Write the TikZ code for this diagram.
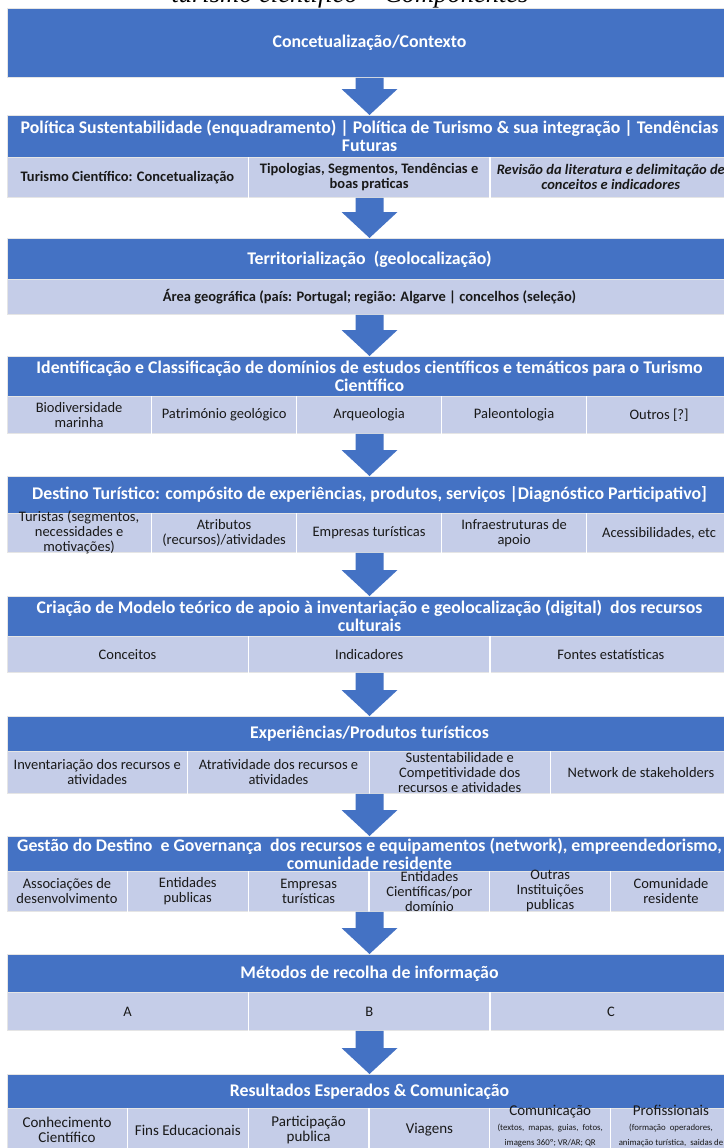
\documentclass[tikz,border=0pt]{standalone}
\usepackage{fontspec}
\setmainfont{Carlito}
\newfontfamily\titlefont{Liberation Serif}
\usetikzlibrary{calc}

\definecolor{headblue}{HTML}{4472C4}
\definecolor{rowblue}{RGB}{197,205,232}

\newcommand{\headfont}{\fontsize{17.8}{18}\selectfont\bfseries}
\newcommand{\cellfont}{\fontsize{14.5}{15}\selectfont}
\newcommand{\bigcellfont}{\fontsize{15}{15}\selectfont}
\newcommand{\tinycellfont}{\fontsize{8.8}{8.6}\selectfont}

% block arrow from one stage down to the next
\newcommand{\stagearrow}[2]{%
  \fill[headblue] ($(#1.south)+(-14,0)$) -- ($(#2.north)+(-14,-26)$)
    -- ($(#2.north)+(-28,-26)$) -- (#2.north) -- ($(#2.north)+(28,-26)$)
    -- ($(#2.north)+(14,-26)$) -- ($(#1.south)+(14,0)$) -- cycle;}

\tikzset{
  head/.style={fill=headblue, draw=black!10, line width=0.8pt, minimum width=725,
    inner sep=0pt, anchor=north},
  row/.style={fill=rowblue, draw=black!10, line width=0.8pt, minimum width=725,
    inner sep=0pt, anchor=north},
  headtxt/.style={text=white, font=\headfont, align=center, inner sep=0pt},
  celltxt/.style={text=black!90, font=\cellfont, align=center, inner sep=0pt},
  divider/.style={draw=white, line width=1.2pt}
}

\begin{document}
\begin{tikzpicture}[x=1pt, y=-1pt]

  \useasboundingbox (0,0) rectangle (723,1148);

  % centre line of the stages
  \def\cx{369.5}

  \node[font=\titlefont\itshape\fontsize{26.5}{26}\selectfont, anchor=base, inner sep=0pt]
    (title) at (350,3) {turismo científico – Componentes};

  % stage 1
  \node[head, minimum height=69] (h1) at (\cx,8) {};
  \node[headtxt] (t1) at (h1) {Concetualização/Contexto};

  % stage 2
  \node[head, minimum height=42] (h2) at (\cx,115) {};
  \node[headtxt] (t2) at (h2) {Política Sustentabilidade (enquadramento) | Política de Turismo \& sua integração | Tendências\\Futuras};
  \node[row, minimum height=40] (r2) at (\cx,157) {};
  \node[celltxt, font=\cellfont\bfseries] (c2-1) at ($(r2.west)+(120.8,0)$) {Turismo Científico: Concetualização};
  \node[celltxt, font=\cellfont\bfseries] (c2-2) at ($(r2.west)+(362.5,0)$) {Tipologias, Segmentos, Tendências e\\boas praticas};
  \node[celltxt, font=\cellfont\bfseries\itshape] (c2-3) at ($(r2.west)+(604.2,0)$) {Revisão da literatura e delimitação de\\conceitos e indicadores};
  \foreach \i in {1,2}
    \draw[divider] ($(r2.north west)+(\i*241.7,0)$) -- ($(r2.south west)+(\i*241.7,0)$);
  \stagearrow{h1}{h2}

  % stage 3
  \node[head, minimum height=41] (h3) at (\cx,238) {};
  \node[headtxt] (t3) at (h3) {Territorialização~ (geolocalização)};
  \node[row, minimum height=35] (r3) at (\cx,279) {};
  \node[celltxt, font=\cellfont\bfseries] (c3-1) at (r3) {Área geográfica (país: Portugal; região: Algarve | concelhos (seleção)};
  \stagearrow{r2}{h3}

  % stage 4
  \node[head, minimum height=40] (h4) at (\cx,356) {};
  \node[headtxt] (t4) at (h4) {Identificação e Classificação de domínios de estudos científicos e temáticos para o Turismo\\Científico};
  \node[row, minimum height=37] (r4) at (\cx,396) {};
  \foreach \txt [count=\i] in {{Biodiversidade\\marinha}, {Património geológico}, {Arqueologia}, {Paleontologia}, {Outros [?]}}
    \node[celltxt] (c4-\i) at ($(r4.west)+(\i*145-72.5,0)$) {\txt};
  \foreach \i in {1,...,4}
    \draw[divider] ($(r4.north west)+(\i*145,0)$) -- ($(r4.south west)+(\i*145,0)$);
  \stagearrow{r3}{h4}

  % stage 5
  \node[head, minimum height=37] (h5) at (\cx,476) {};
  \node[headtxt] (t5) at (h5) {Destino Turístico: compósito de experiências, produtos, serviços |Diagnóstico Participativo]};
  \node[row, minimum height=39] (r5) at (\cx,513) {};
  \foreach \txt [count=\i] in {{Turistas (segmentos,\\necessidades e\\motivações)}, {Atributos\\(recursos)/atividades}, {Empresas turísticas}, {Infraestruturas de\\apoio}, {Acessibilidades, etc}}
    \node[celltxt] (c5-\i) at ($(r5.west)+(\i*145-72.5,0)$) {\txt};
  \foreach \i in {1,...,4}
    \draw[divider] ($(r5.north west)+(\i*145,0)$) -- ($(r5.south west)+(\i*145,0)$);
  \stagearrow{r4}{h5}

  % stage 6
  \node[head, minimum height=40] (h6) at (\cx,596) {};
  \node[headtxt] (t6) at (h6) {Criação de Modelo teórico de apoio à inventariação e geolocalização (digital)~ dos recursos\\culturais};
  \node[row, minimum height=36] (r6) at (\cx,636) {};
  \foreach \txt [count=\i] in {{Conceitos}, {Indicadores}, {Fontes estatísticas}}
    \node[celltxt] (c6-\i) at ($(r6.west)+(\i*241.7-120.8,0)$) {\txt};
  \foreach \i in {1,2}
    \draw[divider] ($(r6.north west)+(\i*241.7,0)$) -- ($(r6.south west)+(\i*241.7,0)$);
  \stagearrow{r5}{h6}

  % stage 7
  \node[head, minimum height=35] (h7) at (\cx,716) {};
  \node[headtxt] (t7) at (h7) {Experiências/Produtos turísticos};
  \node[row, minimum height=42] (r7) at (\cx,751) {};
  \foreach \txt [count=\i] in {{Inventariação dos recursos e\\atividades}, {Atratividade dos recursos e\\atividades}, {Sustentabilidade e\\Competitividade dos\\recursos e atividades}, {Network de stakeholders}}
    \node[celltxt] (c7-\i) at ($(r7.west)+(\i*181.25-90.6,0)$) {\txt};
  \foreach \i in {1,...,3}
    \draw[divider] ($(r7.north west)+(\i*181.25,0)$) -- ($(r7.south west)+(\i*181.25,0)$);
  \stagearrow{r6}{h7}

  % stage 8
  \node[head, minimum height=35] (h8) at (\cx,836) {};
  \node[headtxt] (t8) at (h8) {Gestão do Destino~ e Governança~ dos recursos e equipamentos (network), empreendedorismo,\\comunidade residente};
  \node[row, minimum height=40] (r8) at (\cx,871) {};
  \foreach \txt [count=\i] in {{Associações de\\desenvolvimento}, {Entidades\\publicas}, {Empresas\\turísticas}, {Entidades\\Científicas/por\\domínio}, {Outras\\Instituições\\publicas}, {Comunidade\\residente}}
    \node[celltxt] (c8-\i) at ($(r8.west)+(\i*120.8-60.4,0)$) {\txt};
  \foreach \i in {1,...,5}
    \draw[divider] ($(r8.north west)+(\i*120.8,0)$) -- ($(r8.south west)+(\i*120.8,0)$);
  \stagearrow{r7}{h8}

  % stage 9
  \node[head, minimum height=38] (h9) at (\cx,954) {};
  \node[headtxt] (t9) at (h9) {Métodos de recolha de informação};
  \node[row, minimum height=38] (r9) at (\cx,992) {};
  \foreach \txt [count=\i] in {A, B, C}
    \node[celltxt] (c9-\i) at ($(r9.west)+(\i*241.7-120.8,0)$) {\txt};
  \foreach \i in {1,2}
    \draw[divider] ($(r9.north west)+(\i*241.7,0)$) -- ($(r9.south west)+(\i*241.7,0)$);
  \stagearrow{r8}{h9}

  % stage 10
  \node[head, minimum height=34] (h10) at (\cx,1074) {};
  \node[headtxt] (t10) at (h10) {Resultados Esperados \& Comunicação};
  \node[row, minimum height=50] (r10) at (\cx,1108) {};
  \foreach \txt [count=\i] in {{Conhecimento\\Científico}, {Fins Educacionais}, {Participação\\publica}, {Viagens}}
    \node[celltxt, font=\bigcellfont] (c10-\i) at ($(r10.north west)+(\i*120.8-60.4,22)$) {\txt};
  \node[celltxt, font=\bigcellfont, anchor=north] (c10-5) at ($(r10.north west)+(543.6,-3)$)
    {Comunicação\\\tinycellfont (textos,~ mapas,~ guias,~ fotos,\\\tinycellfont imagens 360º; VR/AR; QR\\\tinycellfont codes, ...)};
  \node[celltxt, font=\bigcellfont, anchor=north] (c10-6) at ($(r10.north west)+(664.4,-3)$)
    {Profissionais\\\tinycellfont (formação~ operadores,\\\tinycellfont animação turística,~ saidas de\\\tinycellfont campo, rede)};
  \foreach \i in {1,...,5}
    \draw[divider] ($(r10.north west)+(\i*120.8,0)$) -- ($(r10.south west)+(\i*120.8,0)$);
  \stagearrow{r9}{h10}

\end{tikzpicture}
\end{document}
